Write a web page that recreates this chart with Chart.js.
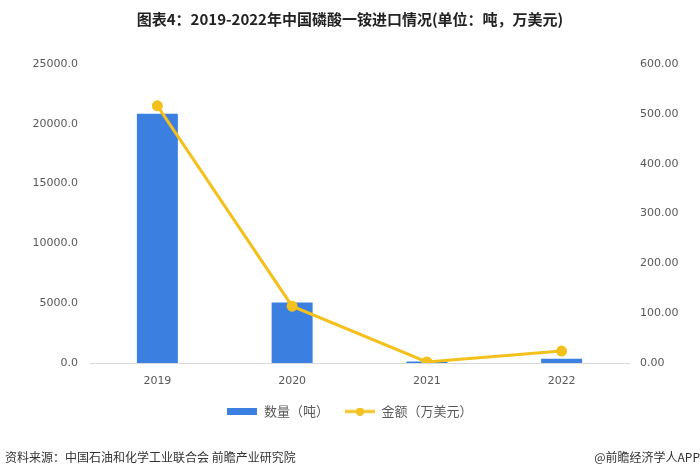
<!DOCTYPE html>
<html lang="zh">
<head>
<meta charset="UTF-8" />
<title>图表4：2019-2022年中国磷酸一铵进口情况</title>
<script src="https://cdn.jsdelivr.net/npm/chart.js"></script>
<style>
	html, body { margin: 0; padding: 0; background: #fff; }
	#wrap { position: relative; width: 700px; height: 476px; }
	#chart-box { position: absolute; left: 0; top: 0; width: 700px; height: 476px; }
	.foot { position: absolute; top: 448px; font: 12px "Noto Sans CJK SC", sans-serif; color: #333; white-space: nowrap; }
</style>
</head>
<body>
<div id="wrap">
	<div id="chart-box"><canvas id="myChart"></canvas></div>
	<div class="foot" style="left: 5px;">资料来源：中国石油和化学工业联合会 前瞻产业研究院</div>
	<div class="foot" style="right: 0;">@前瞻经济学人APP</div>
</div>
<script>
const years = ["2019", "2020", "2021", "2022"];
const tons = [20850, 5060, 120, 350];          // 数量（吨）
const amount = [516, 114, 2, 24];             // 金额（万美元）
const leftTicks = [0, 5000, 10000, 15000, 20000, 25000];
const rightTicks = [0, 100, 200, 300, 400, 500, 600];

const BLUE = "#3b80e0";
const GOLD = "#f3c01c";
const tickFont = { family: "'DejaVu Sans', sans-serif", size: 11 };

// little legend icons
function barIcon() {
	const c = document.createElement("canvas");
	c.width = 30; c.height = 7;
	const g = c.getContext("2d");
	g.fillStyle = BLUE;
	g.fillRect(0, 0, 30, 7);
	return c;
}
function lineIcon() {
	const c = document.createElement("canvas");
	c.width = 30; c.height = 8;
	const g = c.getContext("2d");
	g.strokeStyle = GOLD; g.lineWidth = 3;
	g.beginPath(); g.moveTo(0, 4); g.lineTo(30, 4); g.stroke();
	g.fillStyle = GOLD;
	g.beginPath(); g.arc(15, 4, 4, 0, Math.PI * 2); g.fill();
	return c;
}
const icons = [barIcon(), lineIcon()];

new Chart(document.getElementById("myChart"), {
	data: {
		labels: years,
		datasets: [
			{
				type: "line",
				label: "金额（万美元）",
				data: amount,
				yAxisID: "y1",
				borderColor: GOLD,
				backgroundColor: GOLD,
				borderWidth: 3,
				pointRadius: 4,
				pointHoverRadius: 4,
				tension: 0,
				order: 0,
			},
			{
				type: "bar",
				label: "数量（吨）",
				data: tons,
				yAxisID: "y",
				backgroundColor: BLUE,
				barPercentage: 0.6,
				categoryPercentage: 0.507,
				order: 1,
			},
		],
	},
	options: {
		responsive: true,
		maintainAspectRatio: false,
		animation: false,
		layout: { padding: { left: 0, right: 0, top: 0, bottom: 48 } },
		plugins: {
			title: {
				display: true,
				text: "图表4：2019-2022年中国磷酸一铵进口情况(单位：吨，万美元)",
				color: "#222",
				font: { family: "'Noto Sans CJK SC', sans-serif", size: 15, weight: "bold" },
				padding: { top: 10, bottom: 36 },
			},
			legend: {
				position: "bottom",
				reverse: true,
				labels: {
					usePointStyle: true,
					pointStyleWidth: 30,
					color: "#595959",
					font: { family: "'Noto Sans CJK SC', sans-serif", size: 13 },
					padding: 16,
					generateLabels(chart) {
						const items = Chart.defaults.plugins.legend.labels.generateLabels(chart);
						items.forEach(it => {
							it.pointStyle = it.datasetIndex === 1 ? icons[0] : icons[1];
						});
						return items;
					},
				},
			},
			tooltip: { enabled: false },
		},
		scales: {
			x: {
				afterFit(scale) { scale.height = 26; },
				grid: { display: false, drawTicks: false },
				border: { display: true, color: "#d9d9d9", width: 1 },
				ticks: { color: "#595959", font: tickFont, padding: 12 },
			},
			y: {
				position: "left",
				min: 0,
				max: leftTicks[leftTicks.length - 1],
				afterBuildTicks(scale) { scale.ticks = leftTicks.map(v => ({ value: v })); },
				afterFit(scale) { scale.width = 90; },
				grid: { display: false, drawTicks: false },
				border: { display: false },
				ticks: { color: "#595959", font: tickFont, padding: 12, callback: v => v.toFixed(1) },
			},
			y1: {
				position: "right",
				min: 0,
				max: rightTicks[rightTicks.length - 1],
				afterBuildTicks(scale) { scale.ticks = rightTicks.map(v => ({ value: v })); },
				afterFit(scale) { scale.width = 71; },
				grid: { display: false, drawTicks: false },
				border: { display: false },
				ticks: { color: "#595959", font: tickFont, padding: 11, callback: v => v.toFixed(2) },
			},
		},
	},
});
</script>
</body>
</html>
